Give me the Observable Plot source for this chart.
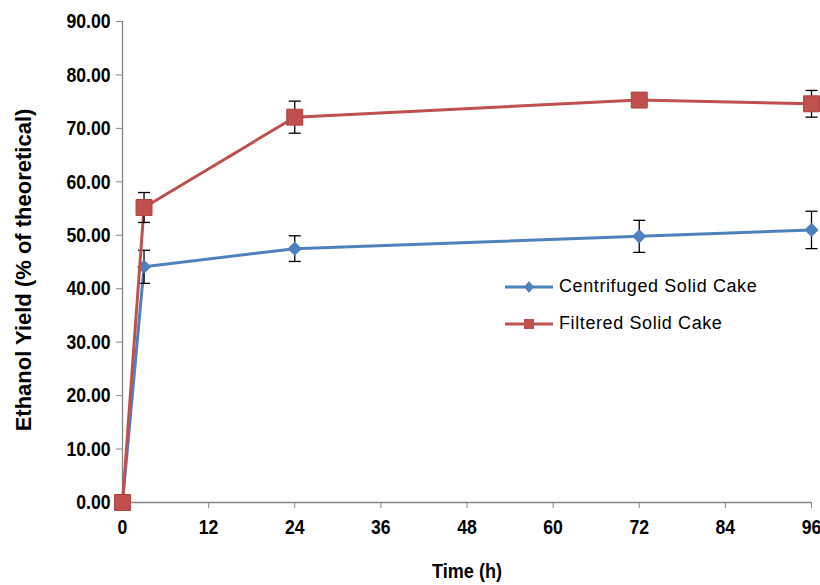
<!DOCTYPE html>
<html>
<head>
<meta charset="utf-8">
<script src="https://cdn.jsdelivr.net/npm/d3@7"></script>
<script src="https://cdn.jsdelivr.net/npm/@observablehq/plot@0.6"></script>
<style>
  html, body { margin: 0; padding: 0; background: #fff; }
  #wrap { position: relative; width: 820px; height: 585px; }
  #legend { position: absolute; left: 503px; top: 268px; font-family: "Liberation Sans", Arial, sans-serif; font-size: 18px; letter-spacing: 0.6px; color: #000; }
  .item { display: flex; align-items: center; height: 37px; }
  .item svg { margin-right: 4px; }
</style>
</head>
<body>
<div id="wrap"></div>
<script>
const time = [0, 3, 24, 72, 96];
const centrifuged = [0, 44.1, 47.5, 49.8, 51.0];
const centrifugedErr = [0, 3.1, 2.4, 3.0, 3.5];
const filtered = [0, 55.2, 72.1, 75.3, 74.6];
const filteredErr = [0, 2.8, 3.0, 0.8, 2.5];
const seriesNames = ["Centrifuged Solid Cake", "Filtered Solid Cake"];
const seriesColors = ["#4F81BD", "#C0504D"];
const xTicks = [0, 12, 24, 36, 48, 60, 72, 84, 96];
const yTicks = [0, 10, 20, 30, 40, 50, 60, 70, 80, 90];
const xLabel = "Time (h)";
const yLabel = "Ethanol Yield (% of theoretical)";

const cent = time.map((t, i) => ({t, v: centrifuged[i], e: centrifugedErr[i]}));
const filt = time.map((t, i) => ({t, v: filtered[i], e: filteredErr[i]}));

const cap = { draw(ctx) { ctx.moveTo(-6, 0); ctx.lineTo(6, 0); } };
const sans = "'Liberation Sans', Arial, sans-serif";

function errMarks(data) {
  const d = data.filter(r => r.e > 0);
  return [
    Plot.link(d, {x1: "t", x2: "t", y1: r => r.v - r.e, y2: r => r.v + r.e, stroke: "#000", strokeWidth: 1.3}),
    Plot.dot(d, {x: "t", y: r => r.v + r.e, symbol: cap, stroke: "#000", strokeWidth: 1.3, r: 1}),
    Plot.dot(d, {x: "t", y: r => r.v - r.e, symbol: cap, stroke: "#000", strokeWidth: 1.3, r: 1})
  ];
}

const chart = Plot.plot({
  width: 820,
  height: 585,
  marginLeft: 122,
  marginRight: 9,
  marginTop: 21,
  marginBottom: 83,
  style: { fontFamily: sans, background: "#fff" },
  x: { domain: [0, 96] },
  y: { domain: [0, 90] },
  marks: [
    Plot.axisX({ticks: xTicks, tickSize: 6, tickPadding: 11, stroke: "#868686", fill: "#000", fontSize: 21, fontWeight: "bold", fontFamily: sans, label: null}),
    Plot.axisY({ticks: yTicks, tickSize: 6, tickPadding: 6, tickFormat: d3.format(".2f"), stroke: "#868686", fill: "#000", fontSize: 21, fontWeight: "bold", fontFamily: sans, label: null}),
    Plot.ruleY([0], {stroke: "#868686", strokeWidth: 1.3}),
    Plot.ruleX([0], {stroke: "#868686", strokeWidth: 1.3}),
    Plot.line(cent, {x: "t", y: "v", stroke: seriesColors[0], strokeWidth: 3}),
    ...errMarks(cent),
    Plot.dot(cent, {x: "t", y: "v", symbol: "diamond2", r: 5.5, fill: seriesColors[0], stroke: seriesColors[0]}),
    Plot.line(filt, {x: "t", y: "v", stroke: seriesColors[1], strokeWidth: 3}),
    ...errMarks(filt),
    Plot.dot(filt, {x: "t", y: "v", symbol: "square", r: 9, fill: seriesColors[1], stroke: "#B0403D", strokeWidth: 1}),
    Plot.text([xLabel], {frameAnchor: "bottom", dy: 75, fontSize: 21, fontWeight: "bold", fontFamily: sans, fill: "#000"}),
    Plot.text([yLabel], {frameAnchor: "left", textAnchor: "middle", rotate: -90, dx: -99, dy: 8, fontSize: 22, fontWeight: "bold", fontFamily: sans, fill: "#000"})
  ]
});

// Condense the tick labels and x title horizontally (Arial Narrow look)
d3.select(chart).selectAll("text").each(function () {
  const txt = this.textContent;
  const g = this.parentNode;
  const lab = g && g.getAttribute ? (g.getAttribute("aria-label") || "") : "";
  const isTick = lab.includes("tick label");
  const isXTitle = txt === xLabel;
  if (!isTick && !isXTitle) return;
  const k = isTick ? 0.84 : 0.86;
  const tr = this.getAttribute("transform");
  if (tr) this.setAttribute("transform", `${tr} scale(${k},1)`);
});

const wrap = document.getElementById("wrap");
wrap.appendChild(chart);

const legend = document.createElement("div");
legend.id = "legend";
seriesNames.forEach((name, i) => {
  const item = document.createElement("div");
  item.className = "item";
  const marker = i === 0
    ? `<path d="M26,8 L31,14 L26,20 L21,14 Z" fill="${seriesColors[i]}"/>`
    : `<rect x="21" y="9" width="10" height="10" fill="${seriesColors[i]}"/>`;
  item.innerHTML = `<svg width="52" height="28"><line x1="2" x2="50" y1="14" y2="14" stroke="${seriesColors[i]}" stroke-width="3"/>${marker}</svg><span>${name}</span>`;
  legend.appendChild(item);
});
wrap.appendChild(legend);
</script>
</body>
</html>
